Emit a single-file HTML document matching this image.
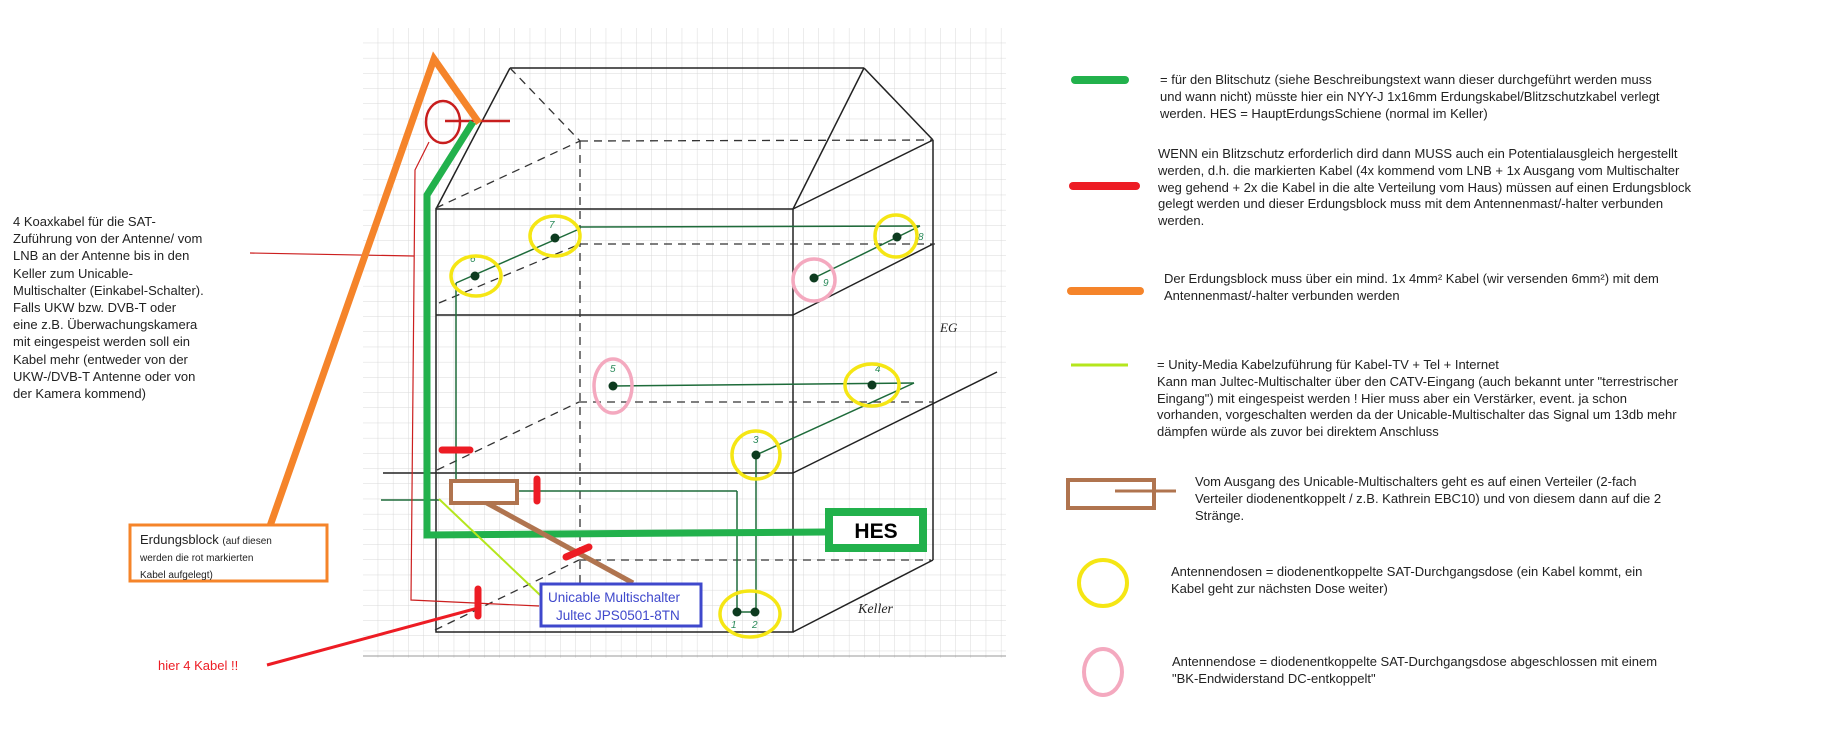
<!DOCTYPE html>
<html><head><meta charset="utf-8"><style>
html,body{margin:0;padding:0;background:#fff}
body{width:1829px;height:732px;position:relative;overflow:hidden;font-family:"Liberation Sans",Arial,sans-serif;color:#222}
.t{position:absolute;font-size:13px;line-height:16.8px;white-space:nowrap}
</style></head><body>
<svg width="1829" height="732" style="position:absolute;left:0;top:0">
<defs>
<pattern id="g" x="363" y="28" width="15.2" height="15.2" patternUnits="userSpaceOnUse">
<path d="M15.2 0V15.2M0 15.2H15.2" stroke="#d8d8d8" stroke-width="1" fill="none"/>
</pattern>
</defs>
<rect x="363" y="28" width="643" height="630" fill="url(#g)"/>
<line x1="363" y1="656" x2="1006" y2="656" stroke="#999" stroke-width="1"/>
<g stroke="#222" stroke-width="1.5" fill="none">
<rect x="436" y="209" width="357" height="423"/>
<line x1="436" y1="315" x2="793" y2="315"/>
<line x1="383" y1="473" x2="793" y2="473"/>
<line x1="933" y1="140" x2="933" y2="560"/>
<line x1="510" y1="68" x2="864" y2="68"/>
<line x1="510" y1="68" x2="436" y2="209"/>
<line x1="864" y1="68" x2="793" y2="209"/>
<line x1="864" y1="68" x2="933" y2="140"/>
<line x1="793" y1="209" x2="933" y2="140"/>
<line x1="793" y1="315" x2="933" y2="244"/>
<line x1="793" y1="473" x2="997" y2="372"/>
<line x1="793" y1="632" x2="933" y2="560"/>
</g>
<g stroke="#333" stroke-width="1.3" fill="none" stroke-dasharray="8,6">
<line x1="510" y1="68" x2="580" y2="141"/>
<line x1="580" y1="141" x2="933" y2="140"/>
<line x1="580" y1="141" x2="580" y2="630"/>
<line x1="436" y1="208" x2="580" y2="141"/>
<line x1="439" y1="303" x2="580" y2="244"/>
<line x1="580" y1="244" x2="935" y2="244"/>
<line x1="437" y1="470" x2="579" y2="402"/>
<line x1="579" y1="402" x2="933" y2="402"/>
<line x1="435" y1="630" x2="579" y2="560"/>
<line x1="579" y1="560" x2="931" y2="560"/>
</g>
<g stroke="#1e6b3a" stroke-width="1.5" fill="none">
<line x1="456" y1="283" x2="577" y2="230"/>
<line x1="577" y1="227" x2="920" y2="226"/>
<line x1="814" y1="278" x2="920" y2="226"/>
<line x1="456" y1="283" x2="456" y2="479"/>
<line x1="613" y1="386" x2="914" y2="383"/>
<line x1="914" y1="383" x2="756" y2="455"/>
<line x1="756" y1="455" x2="756" y2="612"/>
<line x1="518" y1="491" x2="737" y2="491"/>
<line x1="737" y1="491" x2="737" y2="612"/>
<line x1="737" y1="612" x2="755" y2="612"/>
<line x1="381" y1="500" x2="439" y2="500"/>
</g>
<g fill="#0d3b1f">
<circle cx="475" cy="276" r="4.5"/><circle cx="555" cy="238" r="4.5"/>
<circle cx="897" cy="237" r="4.5"/><circle cx="814" cy="278" r="4.5"/>
<circle cx="613" cy="386" r="4.5"/><circle cx="872" cy="385" r="4.5"/>
<circle cx="756" cy="455" r="4.5"/><circle cx="737" cy="612" r="4.5"/><circle cx="755" cy="612" r="4.5"/>
</g>
<g font-family="Liberation Sans,sans-serif" font-size="10" fill="#2a8a5a" font-style="italic">
<text x="549" y="228">7</text><text x="470" y="262">6</text><text x="918" y="240">8</text>
<text x="823" y="286">9</text><text x="610" y="372">5</text><text x="875" y="372">4</text>
<text x="753" y="443">3</text><text x="731" y="628">1</text><text x="752" y="628">2</text>
</g>
<g fill="none" stroke-width="3.5">
<ellipse cx="476" cy="276" rx="25" ry="20" stroke="#f5e614"/>
<ellipse cx="555" cy="236" rx="25" ry="20" stroke="#f5e614"/>
<ellipse cx="896" cy="236" rx="21" ry="21" stroke="#f5e614"/>
<ellipse cx="872" cy="385" rx="27" ry="21" stroke="#f5e614"/>
<ellipse cx="756" cy="455" rx="24" ry="24" stroke="#f5e614"/>
<ellipse cx="750" cy="614" rx="30" ry="23" stroke="#f5e614"/>
<ellipse cx="814" cy="280" rx="21" ry="21" stroke="#f4a9bf"/>
<ellipse cx="613" cy="386" rx="19" ry="27" stroke="#f4a9bf"/>
<ellipse cx="1103" cy="583" rx="24" ry="23" stroke="#f5e614" stroke-width="4"/>
<ellipse cx="1103" cy="672" rx="19" ry="23" stroke="#f4a9bf" stroke-width="4"/>
</g>
<g stroke="#cc1f1f" stroke-width="1.2" fill="none">
<polyline points="429,142 415,170 411,600 539,606"/>
<line x1="250" y1="253" x2="414" y2="256"/>
</g>
<ellipse cx="443" cy="122" rx="17" ry="21" fill="none" stroke="#c81e1e" stroke-width="2.5"/>
<line x1="445" y1="121" x2="510" y2="121" stroke="#c81e1e" stroke-width="2.5"/>
<polyline points="270,526 434,59 479,123" fill="none" stroke="#f5842a" stroke-width="7" stroke-linejoin="miter"/>
<polyline points="473,122 427,195 427,535 825,532" fill="none" stroke="#22b14c" stroke-width="7"/>
<rect x="829" y="512" width="94" height="36" fill="#fff" stroke="#22b14c" stroke-width="8"/>
<text x="876" y="538" text-anchor="middle" font-family="Liberation Sans,sans-serif" font-weight="bold" font-size="21" fill="#000">HES</text>
<line x1="439" y1="499" x2="540" y2="595" stroke="#b5e61d" stroke-width="2"/>
<line x1="485" y1="502" x2="633" y2="583" stroke="#b0744f" stroke-width="5"/>
<rect x="451" y="481" width="66" height="22" fill="#fff" stroke="#b0744f" stroke-width="4"/>
<g stroke="#ed1c24" stroke-width="7" stroke-linecap="round">
<line x1="442" y1="450" x2="470" y2="450"/>
<line x1="537" y1="479" x2="537" y2="501"/>
<line x1="566" y1="557" x2="589" y2="547"/>
<line x1="478" y1="589" x2="478" y2="616"/>
</g>
<line x1="267" y1="665" x2="478" y2="608" stroke="#ed1c24" stroke-width="3"/>
<rect x="541" y="584" width="160" height="42" fill="#fff" stroke="#3f48cc" stroke-width="3"/>
<text x="548" y="602" font-family="Liberation Sans,sans-serif" font-size="13.5" fill="#3f48cc">Unicable Multischalter</text>
<text x="556" y="620" font-family="Liberation Sans,sans-serif" font-size="13.5" fill="#3f48cc">Jultec JPS0501-8TN</text>
<text x="858" y="613" font-family="Liberation Serif,serif" font-style="italic" font-size="14" fill="#222">Keller</text>
<text x="940" y="332" font-family="Liberation Serif,serif" font-style="italic" font-size="13" fill="#222">EG</text>
<rect x="130" y="525" width="197" height="56" fill="#fff" stroke="#f5842a" stroke-width="3"/>
<line x1="1075" y1="80" x2="1125" y2="80" stroke="#22b14c" stroke-width="8" stroke-linecap="round"/>
<line x1="1073" y1="186" x2="1136" y2="186" stroke="#ed1c24" stroke-width="8" stroke-linecap="round"/>
<line x1="1071" y1="291" x2="1140" y2="291" stroke="#f5842a" stroke-width="8" stroke-linecap="round"/>
<line x1="1071" y1="365" x2="1128" y2="365" stroke="#b5e61d" stroke-width="3"/>
<rect x="1068" y="480" width="86" height="28" fill="none" stroke="#b0744f" stroke-width="4"/>
<line x1="1115" y1="491" x2="1176" y2="491" stroke="#b0744f" stroke-width="3"/>
</svg>
<div class="t" style="left:13px;top:213px;line-height:17.2px">4 Koaxkabel für die SAT-<br>Zuführung von der Antenne/ vom<br>LNB an der Antenne bis in den<br>Keller zum Unicable-<br>Multischalter (Einkabel-Schalter).<br>Falls UKW bzw. DVB-T oder<br>eine z.B. Überwachungskamera<br>mit eingespeist werden soll ein<br>Kabel mehr (entweder von der<br>UKW-/DVB-T Antenne oder von<br>der Kamera kommend)</div>
<div class="t" style="left:140px;top:532px;line-height:15px">Erdungsblock <span style="font-size:10px">(auf diesen</span><br><span style="font-size:10px">werden die rot markierten<br>Kabel aufgelegt)</span></div>
<div class="t" style="left:158px;top:658px;color:#ed1c24">hier 4 Kabel !!</div>
<div class="t" style="left:1160px;top:72px">= für den Blitschutz (siehe Beschreibungstext wann dieser durchgeführt werden muss<br>und wann nicht) müsste hier ein NYY-J 1x16mm Erdungskabel/Blitzschutzkabel verlegt<br>werden. HES = HauptErdungsSchiene (normal im Keller)</div>
<div class="t" style="left:1158px;top:146px">WENN ein Blitzschutz erforderlich dird dann MUSS auch ein Potentialausgleich hergestellt<br>werden, d.h. die markierten Kabel (4x kommend vom LNB + 1x Ausgang vom Multischalter<br>weg gehend + 2x die Kabel in die alte Verteilung vom Haus) müssen auf einen Erdungsblock<br>gelegt werden und dieser Erdungsblock muss mit dem Antennenmast/-halter verbunden<br>werden.</div>
<div class="t" style="left:1164px;top:271px">Der Erdungsblock muss über ein mind. 1x 4mm² Kabel (wir versenden 6mm²) mit dem<br>Antennenmast/-halter verbunden werden</div>
<div class="t" style="left:1157px;top:357px">= Unity-Media Kabelzuführung für Kabel-TV + Tel + Internet<br>Kann man Jultec-Multischalter über den CATV-Eingang (auch bekannt unter "terrestrischer<br>Eingang") mit eingespeist werden ! Hier muss aber ein Verstärker, event. ja schon<br>vorhanden, vorgeschalten werden da der Unicable-Multischalter das Signal um 13db mehr<br>dämpfen würde als zuvor bei direktem Anschluss</div>
<div class="t" style="left:1195px;top:474px">Vom Ausgang des Unicable-Multischalters geht es auf einen Verteiler (2-fach<br>Verteiler diodenentkoppelt / z.B. Kathrein EBC10) und von diesem dann auf die 2<br>Stränge.</div>
<div class="t" style="left:1171px;top:564px">Antennendosen = diodenentkoppelte SAT-Durchgangsdose (ein Kabel kommt, ein<br>Kabel geht zur nächsten Dose weiter)</div>
<div class="t" style="left:1172px;top:654px">Antennendose = diodenentkoppelte SAT-Durchgangsdose abgeschlossen mit einem<br>"BK-Endwiderstand DC-entkoppelt"</div>
</body></html>
